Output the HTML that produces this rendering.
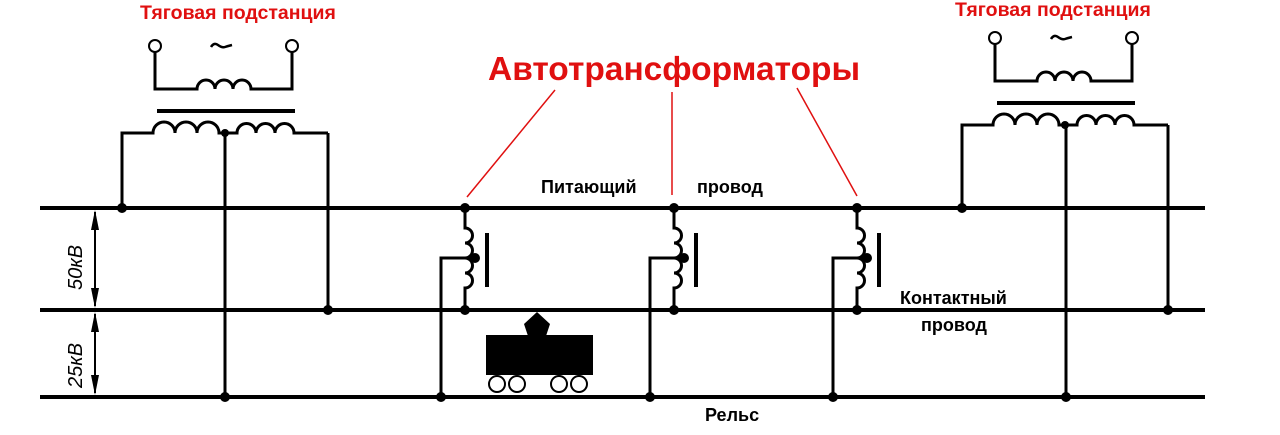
<!DOCTYPE html>
<html><head><meta charset="utf-8"><style>
html,body{margin:0;padding:0;background:#fff;}
svg{display:block}
</style></head><body>
<svg width="1280" height="435" viewBox="0 0 1280 435" xmlns="http://www.w3.org/2000/svg">
<defs>
<g id="sub" fill="none" stroke="#000" stroke-width="3">
  <circle cx="155" cy="46" r="6" stroke-width="2" fill="#fff"/>
  <circle cx="292" cy="46" r="6" stroke-width="2" fill="#fff"/>
  <path d="M155 52 V89 H197 a9 9 0 0 1 18 0 a9 9 0 0 1 18 0 a9 9 0 0 1 18 0 H292 V52"/>
  <line x1="157" y1="111" x2="295" y2="111" stroke-width="4"/>
  <path d="M122 208 V133 H153 a11 11 0 0 1 22 0 a11 11 0 0 1 22 0 a11 11 0 0 1 22 0 H237 a9.5 9.5 0 0 1 19 0 a9.5 9.5 0 0 1 19 0 a9.5 9.5 0 0 1 19 0 H328"/>
  <circle cx="225" cy="133" r="4" fill="#000" stroke="none"/>
  <path d="M211 47 q3 -5 7 -2 t7 2 t7 -2" stroke-width="2.5"/>
</g>
<g id="at" fill="none" stroke="#000" stroke-width="3">
  <path d="M0 208 V228 a7.5 7.5 0 0 1 0 15 a7.5 7.5 0 0 1 0 15 a7.5 7.5 0 0 1 0 15 a7.5 7.5 0 0 1 0 15 V310"/>
  <path d="M10 258 H-24 V397"/>
  <line x1="22" y1="233" x2="22" y2="287" stroke-width="4"/>
  <circle cx="0" cy="208" r="5" fill="#000" stroke="none"/>
  <circle cx="0" cy="310" r="5" fill="#000" stroke="none"/>
  <circle cx="10" cy="258" r="5" fill="#000" stroke="none"/>
  <circle cx="-24" cy="397" r="5" fill="#000" stroke="none"/>
</g>
</defs>
<g stroke="#000" stroke-width="4">
  <line x1="40" y1="208" x2="1205" y2="208"/>
  <line x1="40" y1="310" x2="1205" y2="310"/>
  <line x1="40" y1="397" x2="1205" y2="397"/>
</g>
<use href="#sub"/>
<g fill="none" stroke="#000" stroke-width="3">
  <line x1="225" y1="133" x2="225" y2="397"/>
  <line x1="328" y1="133" x2="328" y2="310"/>
</g>
<circle cx="122" cy="208" r="5"/>
<circle cx="225" cy="397" r="5"/>
<circle cx="328" cy="310" r="5"/>
<use href="#sub" transform="translate(840,-8)"/>
<g fill="none" stroke="#000" stroke-width="3">
  <line x1="962" y1="198" x2="962" y2="208"/>
  <line x1="1066" y1="125" x2="1066" y2="397"/>
  <line x1="1168" y1="125" x2="1168" y2="310"/>
</g>
<circle cx="962" cy="208" r="5"/>
<circle cx="1066" cy="397" r="5"/>
<circle cx="1168" cy="310" r="5"/>
<use href="#at" transform="translate(465,0)"/>
<use href="#at" transform="translate(674,0)"/>
<use href="#at" transform="translate(857,0)"/>
<rect x="486" y="335" width="107" height="40" fill="#000"/>
<polygon points="537,312 550,324 546,336 528,336 524,324" fill="#000"/>
<g fill="#fff" stroke="#000" stroke-width="2">
  <circle cx="497" cy="384" r="8"/><circle cx="517" cy="384" r="8"/>
  <circle cx="559" cy="384" r="8"/><circle cx="579" cy="384" r="8"/>
</g>
<g stroke="#000" stroke-width="2">
  <line x1="95" y1="212" x2="95" y2="306"/>
  <line x1="95" y1="314" x2="95" y2="393"/>
</g>
<g fill="#000">
  <polygon points="95,210 91,230 99,230"/><polygon points="95,308 91,288 99,288"/>
  <polygon points="95,312 91,332 99,332"/><polygon points="95,395 91,375 99,375"/>
</g>
<g font-family="Liberation Sans, DejaVu Sans, sans-serif" font-style="italic" font-size="20" fill="#000">
  <text transform="translate(82,290) rotate(-90)">50кВ</text>
  <text transform="translate(82,388) rotate(-90)">25кВ</text>
</g>
<g stroke="#e01010" stroke-width="1.5">
  <line x1="555" y1="90" x2="467" y2="197"/>
  <line x1="672" y1="92" x2="672" y2="195"/>
  <line x1="797" y1="88" x2="857" y2="196"/>
</g>
<g font-family="Liberation Sans, DejaVu Sans, sans-serif" font-weight="bold">
  <text x="140" y="19" font-size="19.5" fill="#e01010">Тяговая подстанция</text>
  <text x="955" y="16" font-size="19.5" fill="#e01010">Тяговая подстанция</text>
  <text x="488" y="80" font-size="33.5" fill="#e01010">Автотрансформаторы</text>
  <text x="541" y="193" font-size="18" fill="#000">Питающий</text>
  <text x="697" y="193" font-size="18" fill="#000">провод</text>
  <text x="900" y="304" font-size="18" fill="#000">Контактный</text>
  <text x="921" y="331" font-size="18" fill="#000">провод</text>
  <text x="705" y="421" font-size="18" fill="#000">Рельс</text>
</g>
</svg>
</body></html>
